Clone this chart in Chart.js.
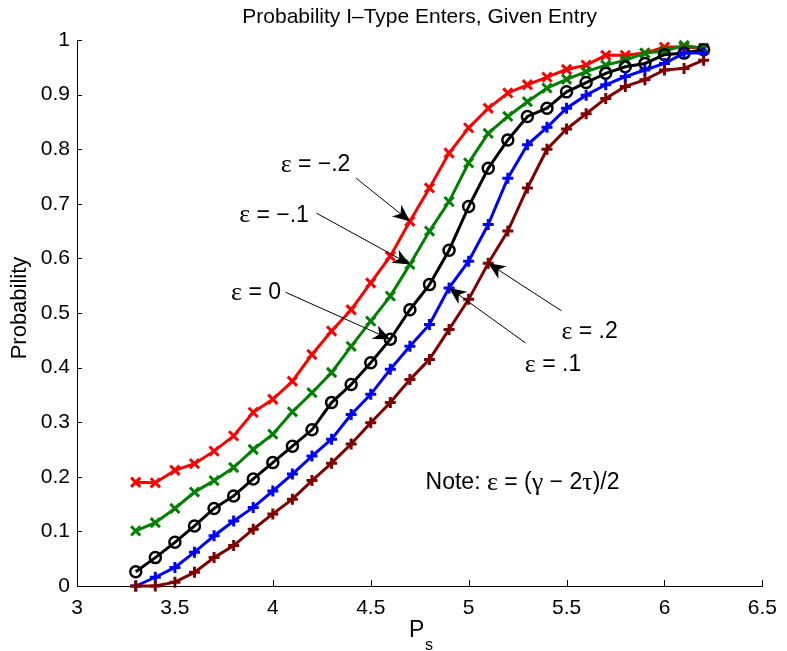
<!DOCTYPE html>
<html>
<head>
<meta charset="utf-8">
<script src="https://cdn.jsdelivr.net/npm/chart.js@4.4.1/dist/chart.umd.min.js"></script>
<style>
  html, body { margin: 0; padding: 0; background: #fff; }
  #wrap { width: 787px; height: 651px; }
</style>
</head>
<body>
<div id="wrap"><canvas id="c" width="787" height="651"></canvas></div>
<script>
// Seller price P_s on the horizontal axis
const ps = [3.3, 3.4, 3.5, 3.6, 3.7, 3.8, 3.9, 4.0, 4.1, 4.2,
            4.3, 4.4, 4.5, 4.6, 4.7, 4.8, 4.9, 5.0, 5.1, 5.2,
            5.3, 5.4, 5.5, 5.6, 5.7, 5.8, 5.9, 6.0, 6.1, 6.2];

// Probability that the I-type enters, one array per epsilon
const epsMinus2 = [0.190, 0.189, 0.212, 0.224, 0.247, 0.275, 0.318, 0.342, 0.375, 0.424,
                   0.467, 0.506, 0.555, 0.604, 0.668, 0.729, 0.793, 0.839, 0.875, 0.903,
                   0.918, 0.932, 0.946, 0.954, 0.972, 0.972, 0.976, 0.987, 0.987, 0.985];
const epsMinus1 = [0.101, 0.116, 0.142, 0.172, 0.193, 0.217, 0.250, 0.278, 0.319, 0.354,
                   0.391, 0.439, 0.485, 0.531, 0.589, 0.650, 0.704, 0.775, 0.829, 0.860,
                   0.887, 0.912, 0.928, 0.942, 0.954, 0.963, 0.976, 0.980, 0.990, 0.985];
const epsZero   = [0.026, 0.052, 0.080, 0.110, 0.142, 0.165, 0.196, 0.226, 0.256, 0.286,
                   0.336, 0.369, 0.409, 0.452, 0.506, 0.552, 0.615, 0.695, 0.765, 0.817,
                   0.860, 0.875, 0.905, 0.922, 0.939, 0.951, 0.957, 0.973, 0.976, 0.982];
const epsPlus1  = [0.000, 0.016, 0.034, 0.062, 0.092, 0.119, 0.144, 0.174, 0.205, 0.238,
                   0.269, 0.314, 0.351, 0.397, 0.439, 0.479, 0.546, 0.595, 0.662, 0.747,
                   0.808, 0.840, 0.875, 0.899, 0.918, 0.933, 0.945, 0.957, 0.976, 0.976];
const epsPlus2  = [0.000, 0.000, 0.007, 0.025, 0.052, 0.074, 0.104, 0.132, 0.159, 0.193,
                   0.225, 0.260, 0.299, 0.336, 0.378, 0.415, 0.470, 0.525, 0.591, 0.650,
                   0.729, 0.800, 0.837, 0.865, 0.893, 0.915, 0.927, 0.945, 0.948, 0.963];

const xTicks = [3, 3.5, 4, 4.5, 5, 5.5, 6, 6.5];
const yTicks = [0, 0.1, 0.2, 0.3, 0.4, 0.5, 0.6, 0.7, 0.8, 0.9, 1];

const FONT = '"Liberation Sans", Arial, Helvetica, sans-serif';
const GREEK_FONT = '"Liberation Serif", "Times New Roman", serif';

const toPoints = arr => ps.map((x, i) => ({ x: x, y: arr[i] }));

const series = [
  { data: epsMinus2, color: '#ff0000', style: 'crossRot', r: 6.5, bw: 3 },
  { data: epsMinus1, color: '#008000', style: 'crossRot', r: 6.5, bw: 3 },
  { data: epsZero,   color: '#000000', style: 'circle',   r: 5.5, bw: 2.5 },
  { data: epsPlus1,  color: '#0000ff', style: 'cross',    r: 5.5, bw: 3 },
  { data: epsPlus2,  color: '#800000', style: 'cross',    r: 5.5, bw: 3 }
];

// Callout labels: text anchor and arrow tail in data units, arrow tip on a series point
const callouts = [
  { text: 'ε = −.2', at: [4.040, 0.771], tail: [4.425, 0.747], series: 0, idx: 14 },
  { text: 'ε = −.1', at: [3.828, 0.679], tail: [4.222, 0.683], series: 1, idx: 14 },
  { text: 'ε = 0',   at: [3.787, 0.537], tail: [4.065, 0.538], series: 2, idx: 13 },
  { text: 'ε = .2',  at: [5.474, 0.465], tail: [5.474, 0.504], series: 4, idx: 18 },
  { text: 'ε = .1',  at: [5.287, 0.405], tail: [5.291, 0.445], series: 3, idx: 16 }
];
const note = { text: 'Note: ε = (γ − 2τ)/2', at: [4.780, 0.189] };

// Writes a label left-aligned, setting Greek letters in a serif face
function drawMixed(ctx, text, x, y, size) {
  const parts = text.split(/([εγτ])/).filter(p => p.length);
  let cx = x;
  parts.forEach(p => {
    const greek = /^[εγτ]$/.test(p);
    ctx.font = (greek ? (size + 3) + 'px ' + GREEK_FONT : size + 'px ' + FONT);
    ctx.fillText(p, cx, y);
    cx += ctx.measureText(p).width;
  });
}

function drawArrow(ctx, x0, y0, x1, y1) {
  const dx = x1 - x0, dy = y1 - y0, L = Math.hypot(dx, dy);
  const ux = dx / L, uy = dy / L;
  const hl = 17, hw = 7.5, notch = 12;
  const bx = x1 - ux * hl, by = y1 - uy * hl;
  ctx.beginPath();
  ctx.moveTo(x0, y0);
  ctx.lineTo(x1 - ux * notch, y1 - uy * notch);
  ctx.stroke();
  ctx.beginPath();
  ctx.moveTo(x1, y1);
  ctx.lineTo(bx - uy * hw, by + ux * hw);
  ctx.lineTo(x1 - ux * notch, y1 - uy * notch);
  ctx.lineTo(bx + uy * hw, by - ux * hw);
  ctx.closePath();
  ctx.fill();
}

const decorations = {
  id: 'decorations',
  afterDraw(chart) {
    const ctx = chart.ctx;
    const xs = chart.scales.x, ys = chart.scales.y;
    const area = chart.chartArea;
    ctx.save();

    // inward tick marks
    ctx.strokeStyle = '#000';
    ctx.lineWidth = 1;
    ctx.beginPath();
    xTicks.forEach(v => {
      const px = Math.round(xs.getPixelForValue(v)) + 0.5;
      ctx.moveTo(px, area.bottom);
      ctx.lineTo(px, area.bottom - 6);
    });
    yTicks.forEach(v => {
      const py = Math.round(ys.getPixelForValue(v)) + 0.5;
      ctx.moveTo(area.left, py);
      ctx.lineTo(area.left + 5, py);
    });
    ctx.stroke();

    // title
    ctx.fillStyle = '#000';
    ctx.font = '21px ' + FONT;
    ctx.textAlign = 'center';
    ctx.textBaseline = 'middle';
    ctx.fillText('Probability I–Type Enters, Given Entry', (area.left + area.right) / 2, 17);

    // axis titles
    ctx.font = '23px ' + FONT;
    ctx.textAlign = 'left';
    ctx.textBaseline = 'alphabetic';
    ctx.fillText('P', 409, 637);
    ctx.font = '16px ' + FONT;
    ctx.fillText('s', 425, 650);

    ctx.save();
    ctx.translate(20, 308);
    ctx.rotate(-Math.PI / 2);
    ctx.font = '22px ' + FONT;
    ctx.textAlign = 'center';
    ctx.textBaseline = 'middle';
    ctx.fillText('Probability', 0, 0);
    ctx.restore();

    // callouts
    ctx.textAlign = 'left';
    ctx.textBaseline = 'middle';
    ctx.lineWidth = 1;
    callouts.forEach(c => {
      drawMixed(ctx, c.text, xs.getPixelForValue(c.at[0]), ys.getPixelForValue(c.at[1]), 23);
      const s = series[c.series];
      const tx = xs.getPixelForValue(ps[c.idx]);
      const ty = ys.getPixelForValue(s.data[c.idx]);
      drawArrow(ctx, xs.getPixelForValue(c.tail[0]), ys.getPixelForValue(c.tail[1]), tx, ty);
    });

    drawMixed(ctx, note.text, xs.getPixelForValue(note.at[0]), ys.getPixelForValue(note.at[1]), 23);
    ctx.restore();
  }
};

new Chart(document.getElementById('c'), {
  type: 'scatter',
  data: {
    datasets: series.map((s, i) => ({
      data: toPoints(s.data),
      showLine: true,
      borderColor: s.color,
      backgroundColor: s.color,
      borderWidth: 3,
      pointStyle: s.style,
      pointRadius: s.r,
      pointHoverRadius: s.r,
      pointBorderWidth: s.bw,
      pointBorderColor: s.color,
      pointBackgroundColor: 'rgba(0,0,0,0)',
      order: series.length - i,
      clip: false
    }))
  },
  options: {
    responsive: false,
    animation: false,
    devicePixelRatio: 1,
    layout: { padding: { top: 40, right: 20, left: 0, bottom: 0 } },
    plugins: { legend: { display: false }, tooltip: { enabled: false }, title: { display: false } },
    scales: {
      x: {
        type: 'linear',
        min: 3, max: 6.5,
        afterBuildTicks: s => { s.ticks = xTicks.map(v => ({ value: v })); },
        afterFit: s => { s.height = 65; },
        grid: { display: false, drawTicks: false },
        border: { display: true, color: '#000', width: 1 },
        ticks: {
          padding: 10,
          color: '#000',
          font: { family: FONT, size: 21 },
          maxRotation: 0,
          callback: v => String(v)
        }
      },
      y: {
        type: 'linear',
        min: 0, max: 1,
        afterBuildTicks: s => { s.ticks = yTicks.map(v => ({ value: v })); },
        afterFit: s => { s.width = 77; },
        grid: { display: false, drawTicks: false },
        border: { display: true, color: '#000', width: 1 },
        ticks: {
          padding: 7,
          color: '#000',
          font: { family: FONT, size: 21 },
          callback: v => String(v)
        }
      }
    }
  },
  plugins: [decorations]
});
</script>
</body>
</html>
